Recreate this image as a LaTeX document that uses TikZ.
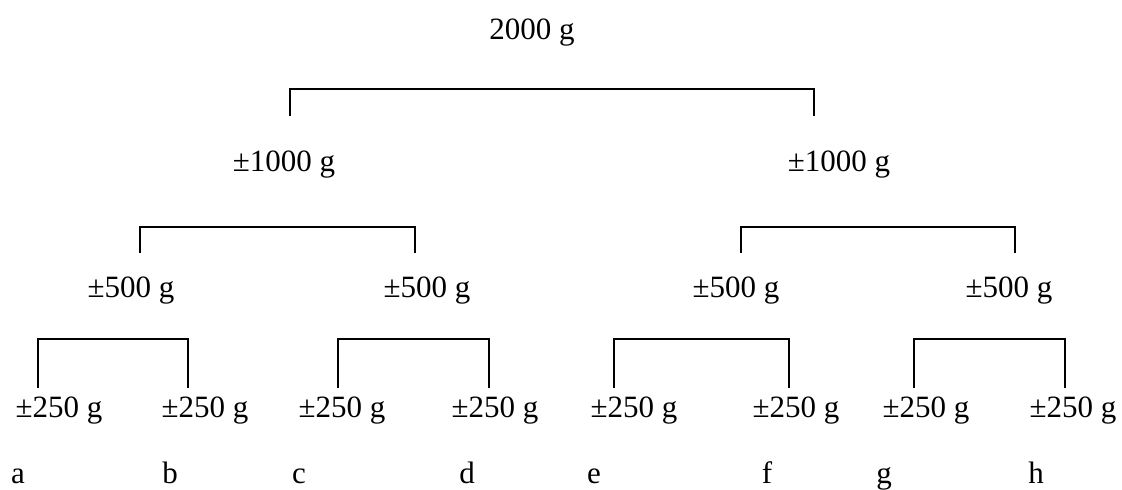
\documentclass[tikz,border=0pt]{standalone}
\usepackage{fontspec}
\setmainfont{Liberation Serif}
\begin{document}
\begin{tikzpicture}[x=0.5pt,y=-0.5pt,
  lbl/.style={font=\fontsize{15.5}{18}\selectfont, inner sep=0pt, anchor=base},
  br/.style={line width=1pt, line cap=rect}]
\fill[white] (0,0) rectangle (1122,489);
\useasboundingbox (0,0) rectangle (1122,489);
% labels
\node[lbl] (r) at (532,39) {2000 g};
\node[lbl] (m1) at (284,171) {±1000 g};
\node[lbl] (m2) at (839,171) {±1000 g};
\node[lbl] (q1) at (131,297) {±500 g};
\node[lbl] (q2) at (427,297) {±500 g};
\node[lbl] (q3) at (736,297) {±500 g};
\node[lbl] (q4) at (1009,297) {±500 g};
\node[lbl] (e1) at (59,417) {±250 g};
\node[lbl] (e2) at (205,417) {±250 g};
\node[lbl] (e3) at (342,417) {±250 g};
\node[lbl] (e4) at (495,417) {±250 g};
\node[lbl] (e5) at (634,417) {±250 g};
\node[lbl] (e6) at (796,417) {±250 g};
\node[lbl] (e7) at (926,417) {±250 g};
\node[lbl] (e8) at (1073,417) {±250 g};
\node[lbl] (la) at (18,483) {a};
\node[lbl] (lb) at (170,483) {b};
\node[lbl] (lc) at (299,483) {c};
\node[lbl] (ld) at (467,483) {d};
\node[lbl] (le) at (594,483) {e};
\node[lbl] (lf) at (767,483) {f};
\node[lbl] (lg) at (884,483) {g};
\node[lbl] (lh) at (1036,483) {h};
% bracket corners
\coordinate (t1) at (290,115); \coordinate (t2) at (290,89);
\coordinate (t3) at (814,89);  \coordinate (t4) at (814,115);
\coordinate (a1) at (140,252); \coordinate (a2) at (140,227);
\coordinate (a3) at (415,227); \coordinate (a4) at (415,252);
\coordinate (b1) at (741,252); \coordinate (b2) at (741,227);
\coordinate (b3) at (1015,227);\coordinate (b4) at (1015,252);
\coordinate (c1) at (38,387);  \coordinate (c2) at (38,339);
\coordinate (c3) at (188,339); \coordinate (c4) at (188,387);
\coordinate (d1) at (338,387); \coordinate (d2) at (338,339);
\coordinate (d3) at (489,339); \coordinate (d4) at (489,387);
\coordinate (f1) at (614,387); \coordinate (f2) at (614,339);
\coordinate (f3) at (789,339); \coordinate (f4) at (789,387);
\coordinate (g1) at (914,387); \coordinate (g2) at (914,339);
\coordinate (g3) at (1065,339);\coordinate (g4) at (1065,387);
\draw[br] (t1) -- (t2) -- (t3) -- (t4);
\draw[br] (a1) -- (a2) -- (a3) -- (a4);
\draw[br] (b1) -- (b2) -- (b3) -- (b4);
\draw[br] (c1) -- (c2) -- (c3) -- (c4);
\draw[br] (d1) -- (d2) -- (d3) -- (d4);
\draw[br] (f1) -- (f2) -- (f3) -- (f4);
\draw[br] (g1) -- (g2) -- (g3) -- (g4);
\end{tikzpicture}
\end{document}
